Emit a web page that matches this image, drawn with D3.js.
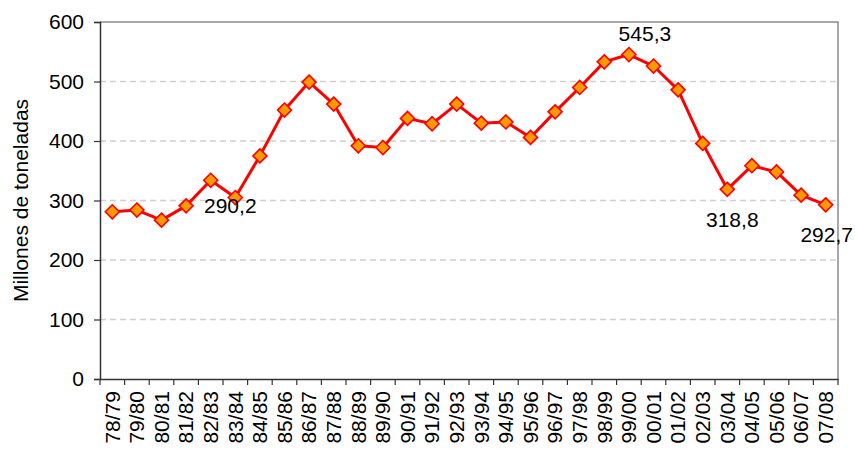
<!DOCTYPE html>
<html>
<head>
<meta charset="utf-8">
<script src="https://cdn.jsdelivr.net/npm/d3@7"></script>
<style>
body{margin:0;background:#fff;}
svg text{font-family:Arial,"Liberation Sans",sans-serif;fill:#000;}
</style>
</head>
<body>
<div class="container"></div>
<script>
// campañas y millones de toneladas
var campanas=["78/79","79/80","80/81","81/82","82/83","83/84","84/85","85/86","86/87","87/88",
  "88/89","89/90","90/91","91/92","92/93","93/94","94/95","95/96","96/97","97/98",
  "98/99","99/00","00/01","01/02","02/03","03/04","04/05","05/06","06/07","07/08"];
var toneladas=[281,284,267,291,334,305,375,452,499,462,
  392,389,438,429,462,430,432,406,449,490,
  533,545.3,526,486,396,318.8,358.5,348,309,292.7];
var yTicks=[0,100,200,300,400,500,600];
var etiquetas=[
  {campana:"83/84",texto:"290,2",dx:-5,dy:15},
  {campana:"99/00",texto:"545,3",dx:16,dy:-14},
  {campana:"03/04",texto:"318,8",dx:5,dy:38},
  {campana:"07/08",texto:"292,7",dx:1,dy:37}
];

var width=855,height=449;
var margin={left:100,right:17,top:22,bottom:70};
var w=width-margin.left-margin.right;
var h=height-margin.top-margin.bottom;
var fs="21px";

var svg=d3.select(".container").append("svg").attr("width",width).attr("height",height);
var g=svg.append("g").attr("transform","translate("+margin.left+","+margin.top+")");

var x=d3.scaleBand().domain(campanas).range([0,w]).paddingInner(0).paddingOuter(0);
var y=d3.scaleLinear().domain([0,600]).range([h,0]);

// grid
g.selectAll(".grid").data(yTicks.filter(function(d){return d>0&&d<600;}))
  .enter().append("line")
  .attr("x1",0).attr("x2",w)
  .attr("y1",function(d){return y(d);}).attr("y2",function(d){return y(d);})
  .attr("stroke","#d0d0d0").attr("stroke-width",1.3).attr("stroke-dasharray","6,4");

// frame top/right
g.append("path").attr("d","M0,0H"+w+"V"+h).attr("fill","none").attr("stroke","#8c8c8c").attr("stroke-width",1.5);

var yAxis=d3.axisLeft(y).tickValues(yTicks).tickSize(6).tickPadding(10);
var yg=g.append("g").call(yAxis);
yg.select(".domain").attr("stroke","#333").attr("stroke-width",1.5);
yg.selectAll(".tick line").attr("stroke","#333").attr("stroke-width",1.2);
yg.selectAll("text").attr("font-size",fs);

var xg=g.append("g").attr("transform","translate(0,"+h+")")
  .call(d3.axisBottom(x).tickSize(0).tickSizeOuter(0));
xg.select(".domain").attr("stroke","#333").attr("stroke-width",1.5);
xg.selectAll(".tick line").remove();
xg.selectAll("text")
  .attr("font-size",fs)
  .attr("transform","rotate(-90)")
  .attr("text-anchor","end")
  .attr("x",-12).attr("y",0).attr("dy","0.35em");
// tick marks at band boundaries
g.selectAll(".xtick").data(d3.range(campanas.length+1)).enter().append("line")
  .attr("x1",function(i){return i*x.bandwidth();}).attr("x2",function(i){return i*x.bandwidth();})
  .attr("y1",h).attr("y2",h+6).attr("stroke","#333").attr("stroke-width",1.2);

// axis title
svg.append("text")
  .attr("transform","translate(21,"+(margin.top+h/2)+") rotate(-90)")
  .attr("text-anchor","middle")
  .attr("dy","0.35em")
  .attr("font-size",fs)
  .text("Millones de toneladas");

var cx=function(d,i){return x(campanas[i])+x.bandwidth()/2;};
var line=d3.line().x(cx).y(function(d){return y(d);});
g.append("path").attr("d",line(toneladas)).attr("fill","none")
  .attr("stroke","#ff0000").attr("stroke-width",3).attr("stroke-linejoin","round");

var sym=d3.symbol().type(d3.symbolDiamond2).size(125);
g.selectAll(".pt").data(toneladas).enter().append("path")
  .attr("d",sym)
  .attr("transform",function(d,i){return "translate("+cx(d,i)+","+y(d)+")";})
  .attr("fill","#ff9900").attr("stroke","#ff0000").attr("stroke-width",1.6);

g.selectAll(".lbl").data(etiquetas).enter().append("text")
  .attr("x",function(d){return x(d.campana)+x.bandwidth()/2+d.dx;})
  .attr("y",function(d){return y(toneladas[campanas.indexOf(d.campana)])+d.dy;})
  .attr("text-anchor","middle")
  .attr("font-size",fs)
  .text(function(d){return d.texto;});
</script>
</body>
</html>
